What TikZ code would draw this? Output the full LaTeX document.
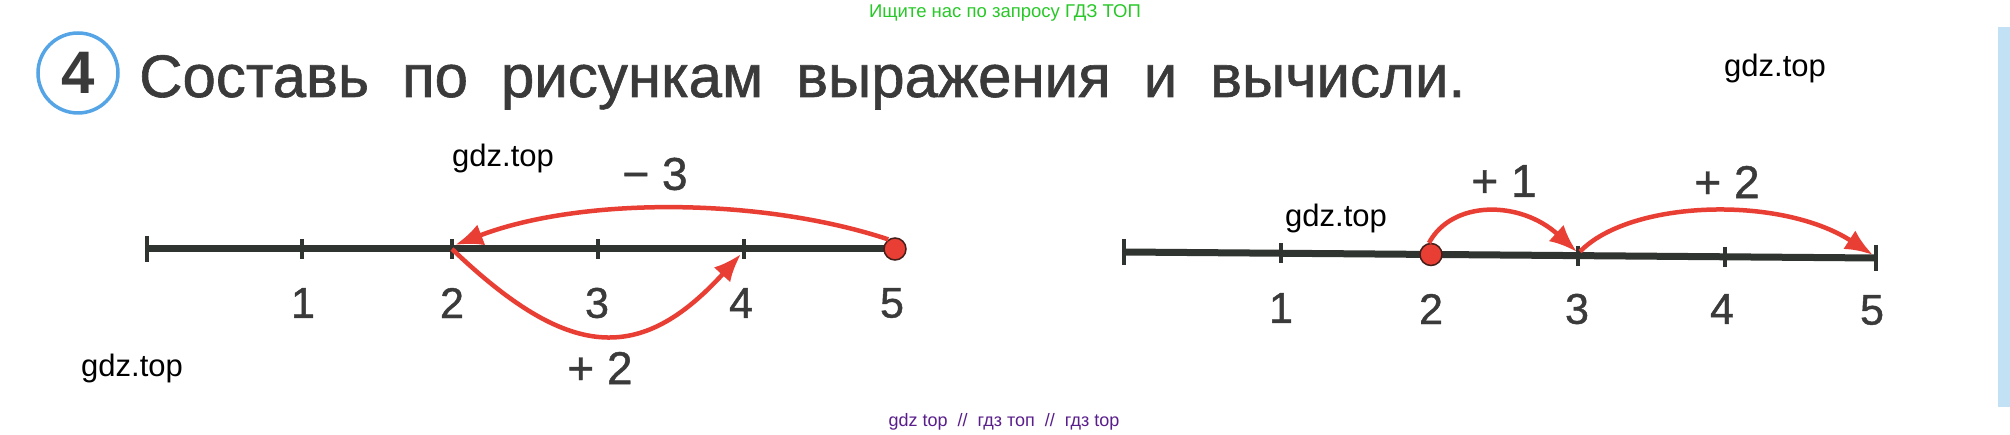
\documentclass[tikz,border=0pt]{standalone}
\usepackage{fontspec}
\setmainfont{Liberation Sans}
\newfontfamily\heavyfont[FakeBold=1]{Liberation Sans}
\usetikzlibrary{arrows.meta}
\definecolor{ink}{RGB}{58,58,58}
\definecolor{axis}{RGB}{48,52,48}
\definecolor{arrowred}{RGB}{232,62,52}
\definecolor{dotedge}{RGB}{70,30,25}
\definecolor{ringblue}{RGB}{85,165,230}
\definecolor{stripblue}{RGB}{195,225,245}
\definecolor{wmgreen}{RGB}{40,200,40}
\definecolor{wmpurple}{RGB}{90,30,140}
\tikzset{
  axisline/.style={draw=axis, line width=7pt},
  tickmark/.style={draw=axis, line width=3.5pt},
  jump/.style={draw=arrowred, line width=4.5pt, -{Latex[length=28pt,width=22pt]}},
  numlabel/.style={font=\heavyfont\fontsize{43}{43}\selectfont, text=ink, inner sep=0},
  oplabel/.style={font=\heavyfont\fontsize{46}{46}\selectfont, text=ink, inner sep=0},
  wm/.style={font=\fontsize{31}{31}\selectfont, text=black, inner sep=0, anchor=base west},
  reddot/.style={circle, fill=arrowred, draw=dotedge, line width=1.5pt, minimum size=22pt, inner sep=0}
}
\begin{document}
\begin{tikzpicture}[x=1pt,y=-1pt]
\fill[white] (0,0) rectangle (2010,435);
\useasboundingbox (0,0) rectangle (2010,435);
\fill[stripblue] (1998,27) rectangle (2010,407);

% header
\node[circle, draw=ringblue, line width=3.5pt, minimum size=80pt, inner sep=0,
      font=\bfseries\fontsize{60}{60}\selectfont, text=ink] (num) at (78,73) {4};
\node[anchor=base west, inner sep=0, font=\heavyfont\fontsize{60}{60}\selectfont, text=ink] (title) at (139,97)
  {\spaceskip=33pt Составь по рисункам выражения и вычисли.};

% watermarks
\node[anchor=base, inner sep=0, font=\fontsize{18.5}{18.5}\selectfont, text=wmgreen] (wmtop) at (1005,18) {Ищите нас по запросу ГДЗ ТОП};
\node[anchor=base, inner sep=0, font=\fontsize{18}{18}\selectfont, text=wmpurple] (wmbot) at (1004,426) {gdz top\ \ //\ \ гдз топ\ \ //\ \ гдз top};
\node[wm] (wm1) at (452,167) {gdz.top};
\node[wm] (wm2) at (81,377) {gdz.top};
\node[wm] (wm3) at (1724,77) {gdz.top};
\node[wm] (wm4) at (1285,227) {gdz.top};

% left number line
\coordinate (L0) at (147,249);
\coordinate (L1) at (302,249);
\coordinate (L2) at (452,249);
\coordinate (L3) at (598,249);
\coordinate (L4) at (744,249);
\coordinate (L5) at (895,249);
\draw[axisline] (L0) -- (L5);
\draw[tickmark] ([yshift=13pt]L0) -- ([yshift=-13pt]L0);
\foreach \t in {L1,L2,L3,L4}{\draw[tickmark] ([yshift=10pt]\t) -- ([yshift=-10pt]\t);}
\node[numlabel] (ln1) at (303,303) {1};
\node[numlabel] (ln2) at (452,303) {2};
\node[numlabel] (ln3) at (597,303) {3};
\node[numlabel] (ln4) at (741,303) {4};
\node[numlabel] (ln5) at (892,303) {5};
\node[reddot] (dotL) at (L5) {};
\coordinate (tipL2) at (455,245);
\coordinate (tipL4) at (741,254);
\draw[jump] (dotL.125) .. controls (760,197) and (580,197) .. (tipL2);
\draw[jump] (L2) .. controls (568,360) and (640,365) .. (tipL4);
\node[oplabel] (minus3) at (655,174) {− 3};
\node[oplabel] (plus2a) at (600,368) {+ 2};

% right number line (slightly sloped, as printed)
\coordinate (R0) at (1124,252);
\coordinate (R1) at (1281,253.3);
\coordinate (R2) at (1431,254.5);
\coordinate (R3) at (1578,255.6);
\coordinate (R4) at (1725,256.8);
\coordinate (R5) at (1876,258);
\draw[axisline] (R0) -- (R5);
\draw[tickmark] ([yshift=13pt]R0) -- ([yshift=-13pt]R0);
\draw[tickmark] ([yshift=13pt]R5) -- ([yshift=-13pt]R5);
\foreach \t in {R1,R3,R4}{\draw[tickmark] ([yshift=10pt]\t) -- ([yshift=-10pt]\t);}
\node[numlabel] (rn1) at (1281,308) {1};
\node[numlabel] (rn2) at (1431,309) {2};
\node[numlabel] (rn3) at (1577,309) {3};
\node[numlabel] (rn4) at (1722,309) {4};
\node[numlabel] (rn5) at (1872,310) {5};
\node[reddot] (dotR) at (R2) {};
\coordinate (tipR3) at (1577,252);
\coordinate (tipR5) at (1873,255);
\draw[jump] (dotR.100) .. controls (1452,200) and (1520,200) .. (tipR3);
\draw[jump] ([xshift=2pt,yshift=4pt]R3) .. controls (1630,200) and (1780,195) .. (tipR5);
\node[oplabel] (plus1) at (1504,181) {+ 1};
\node[oplabel] (plus2b) at (1727,182) {+ 2};
\end{tikzpicture}
\end{document}
